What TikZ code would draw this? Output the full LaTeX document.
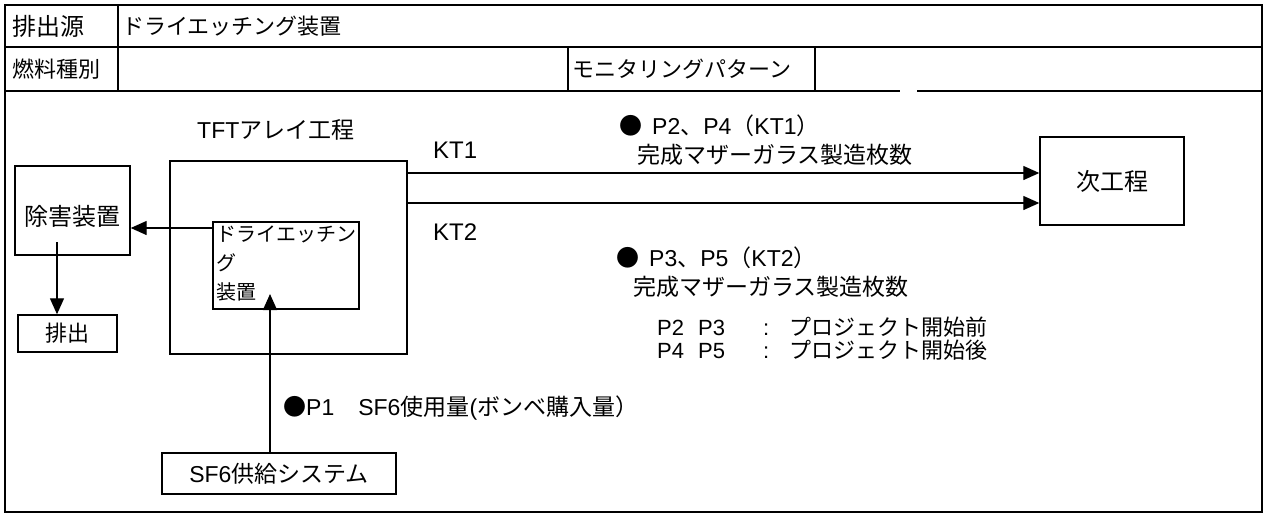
\documentclass[tikz,border=0pt]{standalone}
\usepackage{fontspec}
\setmainfont{Liberation Sans}
\newfontfamily\jpfont{Noto Sans CJK JP}
\newcommand{\jj}[1]{{\jpfont #1}}
\usetikzlibrary{arrows.meta}
\begin{document}
\begin{tikzpicture}[x=1pt,y=-1pt,
  box/.style={draw, line width=1.4pt, inner sep=0pt},
  lbl/.style={inner sep=0pt, anchor=west},
  fs/.style={font=\fontsize{#1}{#1}\selectfont},
  jfs/.style={font=\jpfont\fontsize{#1}{#1}\selectfont},
  arr/.style={line width=1.3pt, -{Triangle[length=16pt,width=14pt]}},
  rule/.style={line width=1.6pt}]
\useasboundingbox (0,0) rectangle (1266,517);
\fill[white] (0,0) rectangle (1266,517);
% header table
\draw[line width=2.6pt] (5,5) rectangle (1262,512);
\draw[rule] (5,47) -- (1262,47);
\draw[rule] (5,91) -- (900,91) (917,91) -- (1262,91);
\draw[rule] (118,5) -- (118,91);
\draw[rule] (568,47) -- (568,91);
\draw[rule] (815,47) -- (815,91);
\node[lbl, jfs=24] (src) at (12,26) {排出源};
\node[lbl, jfs=22] (srcv) at (122,26) {ドライエッチング装置};
\node[lbl, jfs=22] (fuel) at (12,69) {燃料種別};
\node[lbl, jfs=22] (mon) at (572,69) {モニタリングパターン};
% boxes
\node[box, minimum width=237pt, minimum height=193pt] (tft) at (288.5,257.5) {};
\node[lbl, fs=23] (tftlbl) at (197,130) {TFT\jj{アレイ工程}};
\node[box, minimum width=146pt, minimum height=87pt] (etch) at (286,265.5) {};
\node[inner sep=0pt, anchor=north west, align=left, font=\jpfont\fontsize{20}{29}\selectfont] (etchtxt) at (216,226) {ドライエッチン\\グ\\装置};
\node[box, jfs=24, minimum width=115pt, minimum height=89pt] (jogai) at (72.5,210.5) {\raisebox{-7pt}[20pt][4pt]{除害装置}};
\node[box, jfs=22, minimum width=99pt, minimum height=37pt] (haishutsu) at (67.5,333.5) {排出};
\node[box, fs=23, minimum width=234pt, minimum height=41pt] (sf6) at (279,473.5) {SF6\jj{供給システム}};
\node[box, jfs=24, minimum width=144pt, minimum height=88pt] (next) at (1112,181) {次工程\hspace{24pt}};
% connectors
\coordinate (y1) at (0,173);
\coordinate (y2) at (0,203);
\coordinate (y3) at (0,228);
\coordinate (x1) at (57,242);
\coordinate (x2) at (270,294);
\draw[arr] (tft.east |- y1) -- (next.west |- y1);
\draw[arr] (tft.east |- y2) -- (next.west |- y2);
\draw[arr] (etch.west |- y3) -- (jogai.east |- y3);
\draw[arr] (x1) -- (x1 |- haishutsu.north);
\draw[arr] (sf6.north -| x2) -- (x2);
% labels
\node[lbl, fs=24] (kt1) at (433,150) {KT1};
\node[lbl, fs=24] (kt2) at (433,232) {KT2};
\node[lbl, fs=23] (p24) at (619,126) {\jj{●}\hspace{10pt}P2\jj{、}P4\jj{（}KT1\jj{）}};
\node[lbl, jfs=23] (c1) at (637,155) {完成マザーガラス製造枚数};
\node[lbl, fs=23] (p35) at (616,258) {\jj{●}\hspace{10pt}P3\jj{、}P5\jj{（}KT2\jj{）}};
\node[lbl, jfs=23] (c2) at (633,287) {完成マザーガラス製造枚数};
\node[lbl, fs=22] (n1) at (657,327) {\makebox[41pt][l]{P2}\makebox[65pt][l]{P3}\makebox[26pt][l]{:}\jj{プロジェクト開始前}};
\node[lbl, fs=22] (n2) at (657,350) {\makebox[41pt][l]{P4}\makebox[65pt][l]{P5}\makebox[26pt][l]{:}\jj{プロジェクト開始後}};
\node[lbl, fs=23] (p1) at (283,408) {\jj{●}P1\hspace{24pt}SF6\jj{使用量}(\jj{ボンベ購入量）}};
\end{tikzpicture}
\end{document}
